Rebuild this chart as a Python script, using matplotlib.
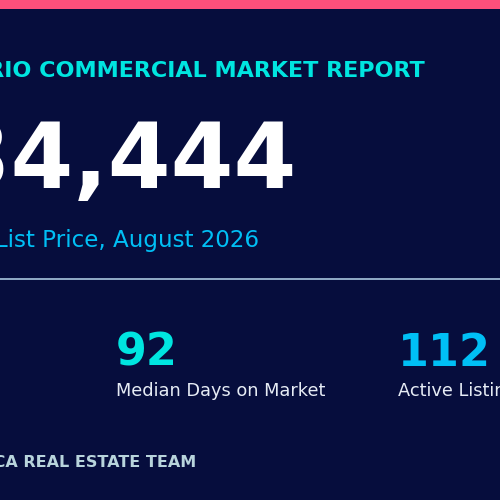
import matplotlib
matplotlib.use("Agg")
import matplotlib.pyplot as plt
from matplotlib.patches import Rectangle
from matplotlib.lines import Line2D

title = "ONTARIO COMMERCIAL MARKET REPORT"
headline_value = "$1,234,444"
headline_label = "Average List Price, August 2026"
stat_values = ["48", "92", "112"]
stat_labels = ["YoY Change", "Median Days on Market", "Active Listings"]
stat_colors = ["#ff4f7b", "#00e5e0", "#00bff5"]
footer = "ONTARIO.CA REAL ESTATE TEAM"

BG = "#060d3d"
fig = plt.figure(figsize=(5, 5), dpi=100, facecolor=BG)

def fy(y):
    return 1 - y / 500.0

def fx(x):
    return x / 500.0

fig.add_artist(Rectangle((0, fy(9)), 1, 9 / 500, transform=fig.transFigure, color="#ff4f7b", lw=0))
fig.add_artist(Line2D([0, 1], [fy(279), fy(279)], transform=fig.transFigure, color="#a9c6df", lw=1.2))

fig.text(fx(425), fy(77), title, ha="right", va="baseline", color="#00e5e0", fontsize=16.0, fontweight="bold")
fig.text(fx(296), fy(188), headline_value, ha="right", va="baseline", color="white", fontsize=65, fontweight="bold")
fig.text(fx(259), fy(247), headline_label, ha="right", va="baseline", color="#00bff5", fontsize=16.6)

stat_x = [-200, 116, 398]
for x, v, l, c in zip(stat_x, stat_values, stat_labels, stat_colors):
    fig.text(fx(x), fy(366), v, ha="left", va="baseline", color=c, fontsize=32, fontweight="bold")
    fig.text(fx(x), fy(396), l, ha="left", va="baseline", color="#e6ecf5", fontsize=12.75)

fig.text(fx(196), fy(467), footer, ha="right", va="baseline", color="#b8d4dc", fontsize=11.5, fontweight="bold")

fig.savefig("out.png", dpi=100, facecolor=BG)
